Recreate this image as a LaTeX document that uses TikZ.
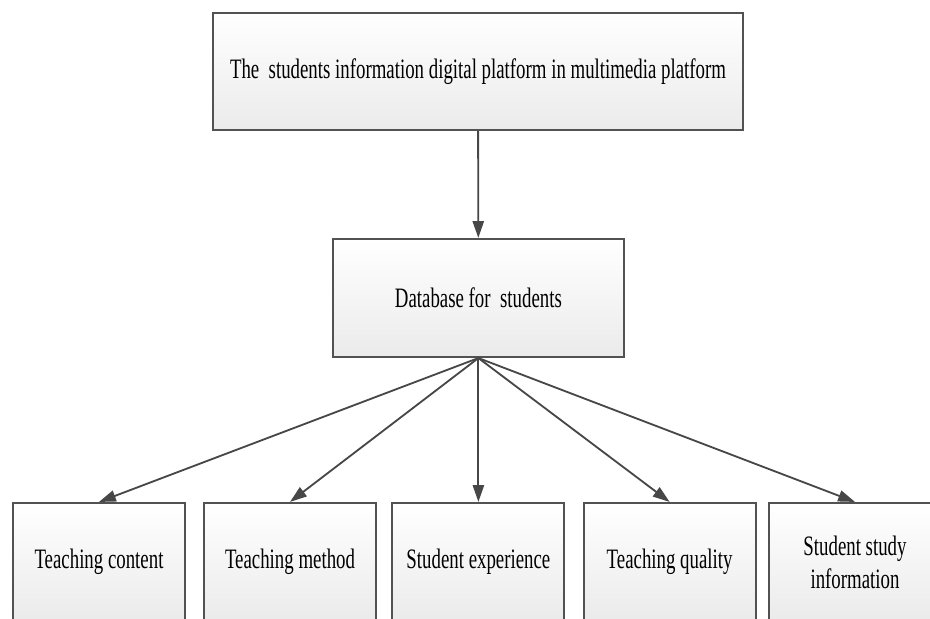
\documentclass[tikz,border=0pt]{standalone}
\usepackage{fontspec}
\setmainfont{Liberation Serif}[FakeStretch=0.67]
\usetikzlibrary{arrows.meta}
\tikzset{
	box/.style={draw=black!68,line width=1.5pt,top color=white,bottom color=black!8,minimum height=2.95cm,align=center,font=\fontsize{20}{23.5}\selectfont},
	link/.style={draw=black!72,line width=1.3pt,-{Triangle[length=12pt,width=8pt]}}
}
\begin{document}
\begin{tikzpicture}
		\clip (0,0) rectangle (23.25,15.45);
		
		\node[box,minimum width=13.25cm,minimum height=2.925cm] (platform) at (11.95,13.66){The\ \ students information digital platform in multimedia platform};
		
		\node[box,minimum width=7.275cm] (database) at (11.96,8){Database for\ \ students};
		
		\node[box,minimum width=4.3cm] (content) at (2.475,1.4){Teaching content};
		\node[box,minimum width=4.3cm] (method) at (7.25,1.4){Teaching method};
		\node[box,minimum width=4.3cm] (experience) at (11.96,1.4){Student experience};
		\node[box,minimum width=4.3cm] (quality) at (16.74,1.4){Teaching quality};
		\node[box,minimum width=4.3cm] (study) at (21.375,1.4){Student study\\information};
		
		\draw[link] (platform) -- (database);
		
		\draw[link] (database.south) -- (content.north);
		\draw[link] (database.south) -- (method.north);
		\draw[link] (database.south) -- (experience.north);
		\draw[link] (database.south) -- (quality.north);
		\draw[link] (database.south) -- (study.north);
	\end{tikzpicture}
\end{document}
